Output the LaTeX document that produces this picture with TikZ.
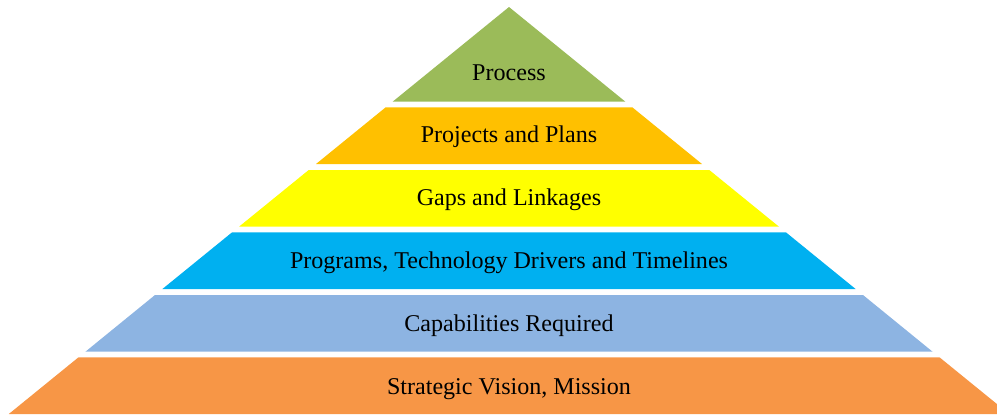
\documentclass[tikz,border=0pt]{standalone}
\usepackage{fontspec}
\setmainfont{Liberation Serif}
\usepackage{xcolor}
\usepackage{tikz}
\definecolor{leaf}{RGB}{155, 187, 89}
\definecolor{amber}{RGB}{255, 192, 0}
\definecolor{lemon}{RGB}{255, 255, 0}
\definecolor{sky}{RGB}{0, 176, 240}
\definecolor{steel}{RGB}{141, 180, 226}
\definecolor{tangerine}{RGB}{247, 150, 70}

\begin{document}
\begin{tikzpicture}[
  x=0.02cm, y=-0.02cm,
  layer/.style={draw=none},
  label/.style={font=\fontsize{13.7}{16}\selectfont, text=black, inner sep=0pt, anchor=base},
]
\useasboundingbox (0,0) rectangle (997,414);
\clip (0,0) rectangle (997,414);

% Pyramid layers, apex at top
\fill[layer, leaf]      (509,7)       -- (625.4,101.7) -- (392.6,101.7) -- cycle;
\fill[layer, amber]     (385.7,107.3) -- (632.3,107.3) -- (702.0,164.0) -- (316.0,164.0) -- cycle;
\fill[layer, lemon]     (308.7,170.0) -- (709.3,170.0) -- (779.0,226.7) -- (239.0,226.7) -- cycle;
\fill[layer, sky]       (232.1,232.3) -- (785.9,232.3) -- (855.6,289.0) -- (162.4,289.0) -- cycle;
\fill[layer, steel]     (155.0,295.0) -- (863.0,295.0) -- (932.6,351.7) -- (85.4,351.7)  -- cycle;
\fill[layer, tangerine] (78.5,357.3)  -- (939.5,357.3) -- (1009.2,414)  -- (8.8,414)     -- cycle;

% Layer labels (placed on their baselines)
\node[label] (process)  at (509,80)    {Process};
\node[label] (projects) at (509,142.5) {Projects and Plans};
\node[label] (gaps)     at (509,205.5) {Gaps and Linkages};
\node[label] (programs) at (509,268.5) {Programs, Technology Drivers and Timelines};
\node[label] (capab)    at (509,331.5) {Capabilities Required};
\node[label] (vision)   at (509,394)   {Strategic Vision, Mission};

\end{tikzpicture}
\end{document}
